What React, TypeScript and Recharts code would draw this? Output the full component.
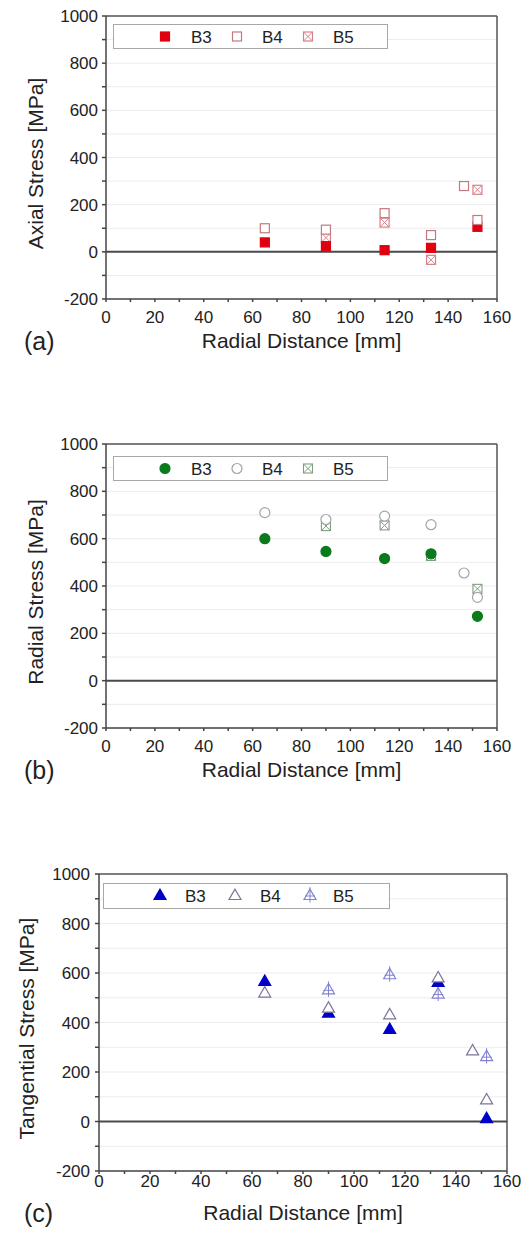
import React from 'react';
import {
  ScatterChart,
  Scatter,
  XAxis,
  YAxis,
  CartesianGrid,
  ReferenceLine,
  Legend,
  Label,
} from 'recharts';

// Measurement positions (radial distance, mm) for each specimen
const radialB3 = [65, 90, 114, 133, 152];
const radialB4 = [65, 90, 114, 133, 146.5, 152];
const radialB5 = [90, 114, 133, 152];

// Axial stress [MPa]
const axialB3 = [40, 24, 7, 17, 106];
const axialB4 = [100, 94, 164, 71, 279, 135];
const axialB5 = [60, 124, -34, 263];

// Radial stress [MPa]
const radialStressB3 = [600, 546, 516, 536, 272];
const radialStressB4 = [710, 681, 695, 659, 455, 352];
const radialStressB5 = [653, 656, 527, 388];

// Tangential stress [MPa]
const tangB3 = [564, 436, 370, 560, 10];
const tangB4 = [517, 456, 429, 578, 283, 85];
const tangB5 = [530, 591, 513, 260];

const seriesNames = ['B3', 'B4', 'B5'];
const xTicks = [0, 10, 20, 30, 40, 50, 60, 70, 80, 90, 100, 110, 120, 130, 140, 150, 160];
const yTicks = [-200, -100, 0, 100, 200, 300, 400, 500, 600, 700, 800, 900, 1000];

const FONT = '"Liberation Sans", Arial, Helvetica, sans-serif';

const toPoints = (xs: number[], ys: number[]) => xs.map((x, i) => ({ x, y: ys[i] }));

type Kind = 'square' | 'circle' | 'triangle';
type Fill = 'solid' | 'open' | 'cross';

interface MarkerProps {
  cx: number;
  cy: number;
  kind: Kind;
  fill: Fill;
  color: string;
}

function Marker({ cx, cy, kind, fill, color }: MarkerProps) {
  if (cx == null || cy == null) return null;
  if (kind === 'square') {
    const h = 4.5;
    return (
      <g>
        <rect
          x={cx - h}
          y={cy - h}
          width={2 * h}
          height={2 * h}
          fill={fill === 'solid' ? color : '#fff'}
          stroke={color}
          strokeWidth={1.2}
        />
        {fill === 'cross' && (
          <path
            d={`M${cx - h},${cy - h}L${cx + h},${cy + h}M${cx + h},${cy - h}L${cx - h},${cy + h}`}
            stroke={color}
            strokeWidth={1}
          />
        )}
      </g>
    );
  }
  if (kind === 'circle') {
    if (fill === 'cross') {
      const h = 4.5;
      return (
        <g>
          <rect x={cx - h} y={cy - h} width={2 * h} height={2 * h} fill="#fff" stroke={color} strokeWidth={1.1} />
          <path
            d={`M${cx - h},${cy - h}L${cx + h},${cy + h}M${cx + h},${cy - h}L${cx - h},${cy + h}`}
            stroke={color}
            strokeWidth={1}
          />
        </g>
      );
    }
    return (
      <circle
        cx={cx}
        cy={cy}
        r={5}
        fill={fill === 'solid' ? color : '#fff'}
        stroke={color}
        strokeWidth={1.2}
      />
    );
  }
  // triangle
  const s = 6;
  const top = cy - 6.9;
  const bot = cy + 3.5;
  return (
    <g>
      <path
        d={`M${cx},${top}L${cx - s},${bot}L${cx + s},${bot}Z`}
        fill={fill === 'solid' ? color : '#fff'}
        stroke={color}
        strokeWidth={1.2}
        strokeLinejoin="miter"
      />
      {fill === 'cross' && (
        <path
          d={`M${cx},${top - 2}L${cx},${bot + 3}M${cx - s + 1},${cy}L${cx + s - 1},${cy}`}
          stroke={color}
          strokeWidth={1}
        />
      )}
    </g>
  );
}

interface SeriesStyle {
  kind: Kind;
  fill: Fill;
  color: string;
}

interface LegendLayout {
  left: number;
  top: number;
  width: number;
  height: number;
  markerX: number[];
  textX: number[];
}

function LegendBox({ styles, layout }: { styles: SeriesStyle[]; layout: LegendLayout }) {
  const cy = layout.height / 2;
  return (
    <svg width={layout.width} height={layout.height} style={{ display: 'block' }}>
      <rect
        x={0.5}
        y={0.5}
        width={layout.width - 1}
        height={layout.height - 1}
        fill="#fff"
        stroke="#a8a8a8"
        strokeWidth={1}
      />
      {styles.map((st, i) => (
        <g key={seriesNames[i]}>
          <Marker cx={layout.markerX[i]} cy={cy} kind={st.kind} fill={st.fill} color={st.color} />
          <text
            x={layout.textX[i]}
            y={cy}
            dy="0.36em"
            fontFamily={FONT}
            fontSize={17}
            fill="#222"
          >
            {seriesNames[i]}
          </text>
        </g>
      ))}
    </svg>
  );
}

interface PanelProps {
  top: number;
  height: number;
  plotLeft: number;
  plotRight: number;
  plotTop: number;
  plotBottom: number;
  xTickMargin: number;
  yTickMargin: number;
  yTitle: string;
  yTitleX: number;
  letter: string;
  xs: number[][];
  ys: number[][];
  styles: SeriesStyle[];
  legend: LegendLayout;
  drawOrder: number[];
}

const Y_AXIS_W = 70;
const X_AXIS_H = 40;

function Panel(p: PanelProps) {
  const margin = {
    top: p.plotTop,
    right: 531 - p.plotRight,
    left: p.plotLeft - Y_AXIS_W,
    bottom: p.height - p.plotBottom - X_AXIS_H,
  };
  const tickStyle = { fontFamily: FONT, fontSize: 17, fill: '#222' };
  return (
    <div style={{ position: 'absolute', left: 0, top: p.top, width: 531, height: p.height }}>
      <ScatterChart width={531} height={p.height} margin={margin}>
        <CartesianGrid horizontal vertical={false} stroke="#ececec" strokeWidth={1} />
        <XAxis
          type="number"
          dataKey="x"
          domain={[0, 160]}
          ticks={xTicks}
          interval={0}
          height={X_AXIS_H}
          tickFormatter={(v: number) => (v % 20 === 0 ? String(v) : '')}
          tick={tickStyle}
          tickSize={3}
          tickMargin={p.xTickMargin}
          stroke="#444"
          strokeWidth={1.5}
          allowDataOverflow
        >
          <Label
            content={(props: any) => {
              const vb = props.viewBox || {};
              const cx = vb.x + vb.width / 2;
              const y0 = vb.y;
              return (
                <g>
                  <text
                    x={cx}
                    y={y0 + 41}
                    textAnchor="middle"
                    dominantBaseline="central"
                    fontFamily={FONT}
                    fontSize={21}
                    fill="#222"
                  >
                    Radial Distance [mm]
                  </text>
                  <text
                    x={24}
                    y={y0 + 42}
                    dominantBaseline="central"
                    fontFamily={FONT}
                    fontSize={25}
                    fill="#222"
                  >
                    {p.letter}
                  </text>
                </g>
              );
            }}
          />
        </XAxis>
        <YAxis
          type="number"
          dataKey="y"
          domain={[-200, 1000]}
          ticks={yTicks}
          interval={0}
          width={Y_AXIS_W}
          tickFormatter={(v: number) => (v % 200 === 0 ? String(v) : '')}
          tick={tickStyle}
          tickSize={4}
          tickMargin={p.yTickMargin}
          stroke="#444"
          strokeWidth={1.5}
          allowDataOverflow
        >
          <Label
            content={(props: any) => {
              const vb = props.viewBox || {};
              const cy = vb.y + vb.height / 2 + 6;
              return (
                <text
                  x={p.yTitleX}
                  y={cy}
                  transform={`rotate(-90, ${p.yTitleX}, ${cy})`}
                  textAnchor="middle"
                  dominantBaseline="central"
                  fontFamily={FONT}
                  fontSize={21}
                  fill="#222"
                >
                  {p.yTitle}
                </text>
              );
            }}
          />
        </YAxis>
        <ReferenceLine y={1000} stroke="#555" strokeWidth={1.5} />
        <ReferenceLine x={160} stroke="#555" strokeWidth={1.5} />
        <ReferenceLine y={0} stroke="#4a4a4a" strokeWidth={2} />
        <Legend
          layout="vertical"
          align="center"
          verticalAlign="middle"
          wrapperStyle={{
            position: 'absolute',
            left: p.legend.left,
            top: p.legend.top,
            width: p.legend.width,
            height: p.legend.height,
          }}
          content={() => <LegendBox styles={p.styles} layout={p.legend} />}
        />
        {p.drawOrder.map((i) => {
          const st = p.styles[i];
          return (
            <Scatter
              key={seriesNames[i]}
              name={seriesNames[i]}
              data={toPoints(p.xs[i], p.ys[i])}
              isAnimationActive={false}
              shape={(sp: any) => (
                <Marker cx={sp.cx} cy={sp.cy} kind={st.kind} fill={st.fill} color={st.color} />
              )}
            />
          );
        })}
      </ScatterChart>
    </div>
  );
}

const axialStyles: SeriesStyle[] = [
  { kind: 'square', fill: 'solid', color: '#e00010' },
  { kind: 'square', fill: 'open', color: '#c27a7e' },
  { kind: 'square', fill: 'cross', color: '#d8808a' },
];
const radialStyles: SeriesStyle[] = [
  { kind: 'circle', fill: 'solid', color: '#0b7a1c' },
  { kind: 'circle', fill: 'open', color: '#a4a4a4' },
  { kind: 'circle', fill: 'cross', color: '#7f9e80' },
];
const tangStyles: SeriesStyle[] = [
  { kind: 'triangle', fill: 'solid', color: '#0000c8' },
  { kind: 'triangle', fill: 'open', color: '#77779a' },
  { kind: 'triangle', fill: 'cross', color: '#8282d2' },
];

const xsAll = [radialB3, radialB4, radialB5];

export default function App() {
  return (
    <div
      style={{
        position: 'absolute',
        left: 0,
        top: 0,
        width: 531,
        height: 1236,
        background: '#fff',
        overflow: 'hidden',
      }}
    >
      <Panel
        top={0}
        height={400}
        plotLeft={106}
        plotRight={497}
        plotTop={16}
        plotBottom={299}
        xTickMargin={9}
        yTickMargin={4}
        yTitle="Axial Stress [MPa]"
        yTitleX={35}
        letter="(a)"
        xs={xsAll}
        ys={[axialB3, axialB4, axialB5]}
        styles={axialStyles}
        legend={{ left: 113, top: 24, width: 275, height: 25, markerX: [52, 124, 195], textX: [78, 149, 220] }}
        drawOrder={[2, 0, 1]}
      />
      <Panel
        top={428}
        height={400}
        plotLeft={106}
        plotRight={497}
        plotTop={16}
        plotBottom={300}
        xTickMargin={9}
        yTickMargin={4}
        yTitle="Radial Stress [MPa]"
        yTitleX={35}
        letter="(b)"
        xs={xsAll}
        ys={[radialStressB3, radialStressB4, radialStressB5]}
        styles={radialStyles}
        legend={{ left: 113, top: 28, width: 275, height: 25, markerX: [52, 124, 195], textX: [78, 149, 220] }}
        drawOrder={[2, 0, 1]}
      />
      <Panel
        top={858}
        height={378}
        plotLeft={99}
        plotRight={507}
        plotTop={16}
        plotBottom={313}
        xTickMargin={1}
        yTickMargin={5}
        yTitle="Tangential Stress [MPa]"
        yTitleX={26}
        letter="(c)"
        xs={xsAll}
        ys={[tangB3, tangB4, tangB5]}
        styles={tangStyles}
        legend={{ left: 103, top: 25, width: 287, height: 26, markerX: [57, 132, 207], textX: [82, 157, 230] }}
        drawOrder={[2, 0, 1]}
      />
    </div>
  );
}
